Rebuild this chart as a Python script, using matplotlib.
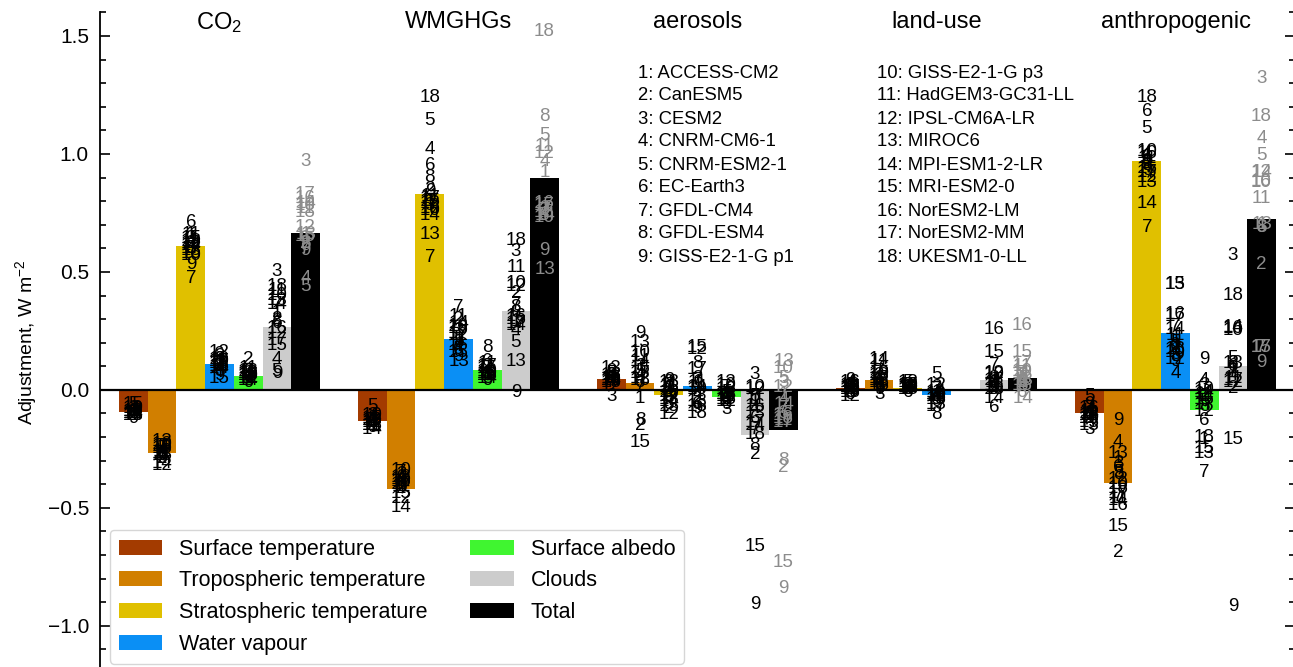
import numpy as np
import matplotlib
matplotlib.use("Agg")
import matplotlib.pyplot as plt
import matplotlib.transforms as mtransforms
from matplotlib.patches import Patch
from matplotlib.ticker import MultipleLocator

plt.rcParams["font.family"] = ["Liberation Sans", "DejaVu Sans"]
plt.rcParams["mathtext.fontset"] = "custom"
plt.rcParams["mathtext.rm"] = "Liberation Sans"
plt.rcParams["mathtext.it"] = "Liberation Sans:italic"
plt.rcParams["mathtext.bf"] = "Liberation Sans:bold"

nan = np.nan

FORCINGS = ["CO$_2$", "WMGHGs", "aerosols", "land-use", "anthropogenic"]
COMPONENTS = ["Surface temperature", "Tropospheric temperature",
              "Stratospheric temperature", "Water vapour", "Surface albedo",
              "Clouds", "Total"]
COLOURS = ["#a33b00", "#d17f00", "#e0c000", "#0a8ff5", "#40f530",
           "#cccccc", "#000000"]
MODELS = ["ACCESS-CM2", "CanESM5", "CESM2", "CNRM-CM6-1", "CNRM-ESM2-1",
          "EC-Earth3", "GFDL-CM4", "GFDL-ESM4", "GISS-E2-1-G p1",
          "GISS-E2-1-G p3", "HadGEM3-GC31-LL", "IPSL-CM6A-LR", "MIROC6",
          "MPI-ESM1-2-LR", "MRI-ESM2-0", "NorESM2-LM", "NorESM2-MM",
          "UKESM1-0-LL"]

# multi-model mean bars, one value per component
BAR_CO2 = [-0.093, -0.266, 0.61, 0.11, 0.06, 0.265, 0.665]
BAR_WMGHG = [-0.13, -0.42, 0.83, 0.216, 0.085, 0.335, 0.90]
BAR_AER = [0.045, 0.03, -0.02, 0.015, -0.03, -0.19, -0.17]
BAR_LAND = [0.01, 0.04, 0.01, -0.02, nan, 0.04, 0.05]
BAR_ANTH = [-0.10, -0.395, 0.97, 0.24, -0.087, 0.10, 0.725]

# per-model values (models 1..18), rows follow COMPONENTS
CO2 = [
    [-0.09, -0.11, -0.08, -0.10, -0.06, -0.09, -0.10, -0.09, -0.12, -0.08, -0.10, -0.09, -0.11, -0.10, -0.06, -0.09, -0.10, -0.11],
    [-0.27, -0.29, -0.24, -0.26, -0.25, -0.28, -0.24, -0.27, -0.29, -0.23, -0.26, -0.32, -0.22, -0.31, -0.28, -0.25, -0.27, -0.24],
    [0.66, 0.62, 0.64, 0.63, 0.60, 0.71, 0.47, 0.60, 0.53, 0.57, 0.66, 0.62, 0.59, 0.61, 0.64, 0.58, 0.60, 0.63],
    [0.12, 0.10, 0.14, 0.09, 0.08, 0.15, 0.11, 0.13, 0.06, 0.12, 0.10, 0.16, 0.11, 0.09, 0.05, 0.13, 0.12, 0.10],
    [0.05, 0.13, 0.08, 0.06, 0.04, 0.08, 0.05, 0.07, 0.03, 0.06, 0.09, 0.05, 0.07, 0.04, 0.06, 0.08, 0.05, 0.07],
    [0.33, 0.30, 0.50, 0.13, 0.08, 0.28, 0.36, 0.29, 0.07, 0.40, 0.42, 0.24, 0.38, 0.36, 0.19, 0.26, 0.21, 0.44],
    [0.66, 0.62, 0.97, 0.47, 0.44, 0.64, 0.60, 0.62, 0.59, 0.78, 0.77, 0.69, 0.66, 0.79, 0.65, 0.81, 0.83, 0.75],
]
WMGHG = [
    [-0.13, -0.15, -0.11, -0.12, -0.07, -0.14, -0.13, -0.12, -0.16, -0.11, -0.14, -0.15, -0.13, -0.17, -0.12, -0.13, -0.14, -0.15],
    [-0.40, -0.42, -0.36, -0.38, -0.41, -0.39, -0.35, -0.40, -0.37, -0.34, -0.41, -0.46, -0.38, -0.50, -0.44, -0.39, -0.40, -0.37],
    [0.80, 0.85, 0.78, 1.02, 1.14, 0.95, 0.56, 0.90, 0.84, 0.76, 0.82, 0.79, 0.66, 0.74, 0.80, 0.77, 0.81, 1.24],
    [0.22, 0.30, 0.25, 0.18, 0.21, 0.17, 0.35, 0.20, 0.14, 0.27, 0.31, 0.23, 0.12, 0.28, 0.16, 0.19, 0.24, 0.26],
    [0.07, 0.10, 0.06, 0.08, 0.05, 0.12, 0.09, 0.18, 0.04, 0.07, 0.11, 0.06, 0.08, 0.05, 0.09, 0.07, 0.10, 0.06],
    [0.29, 0.41, 0.585, 0.25, 0.20, 0.33, 0.36, 0.35, -0.01, 0.45, 0.52, 0.44, 0.12, 0.275, 0.30, 0.31, 0.28, 0.635],
    [0.92, 0.76, 0.77, 0.97, 1.08, 0.74, 0.76, 1.16, 0.59, 0.73, 1.03, 1.00, 0.51, 0.74, 0.75, 0.79, 0.78, 1.52],
]
AER = [
    [0.05, 0.06, -0.03, 0.04, 0.07, 0.05, 0.03, 0.06, 0.08, 0.04, 0.05, 0.02, 0.09, 0.04, 0.03, 0.06, 0.05, 0.04],
    [-0.035, -0.15, 0.10, 0.06, 0.08, 0.03, 0.01, -0.13, 0.24, 0.16, 0.14, 0.05, 0.20, 0.12, -0.225, 0.09, 0.07, 0.04],
    [0.01, -0.08, 0.03, -0.02, 0.00, -0.03, 0.02, -0.06, 0.04, -0.01, 0.02, -0.105, -0.04, -0.05, -0.07, 0.01, -0.03, 0.03],
    [0.03, -0.04, 0.05, -0.02, 0.02, -0.06, 0.04, 0.11, -0.08, 0.00, 0.03, 0.17, -0.05, 0.01, 0.18, -0.07, 0.085, -0.10],
    [-0.02, -0.05, -0.085, -0.03, -0.01, -0.04, 0.01, -0.02, -0.06, 0.02, -0.03, -0.05, 0.03, -0.02, -0.04, 0.00, -0.03, -0.02],
    [-0.05, -0.275, 0.065, -0.08, -0.03, -0.12, -0.17, -0.235, -0.91, 0.01, -0.04, 0.00, -0.10, -0.15, -0.665, -0.07, -0.14, -0.19],
    [-0.02, -0.33, 0.03, -0.04, 0.05, -0.10, -0.08, -0.30, -0.84, 0.09, -0.13, 0.01, 0.12, -0.06, -0.73, -0.11, -0.14, -0.12],
]
LAND = [
    [0.01, 0.02, -0.01, 0.03, 0.00, -0.02, 0.01, 0.02, 0.04, 0.00, 0.01, -0.03, 0.02, 0.01, 0.00, 0.03, 0.01, -0.01],
    [0.04, 0.06, -0.02, 0.03, 0.01, 0.05, 0.08, 0.02, 0.00, 0.07, 0.12, 0.04, 0.06, 0.13, 0.03, 0.09, 0.05, 0.02],
    [0.01, 0.02, 0.00, 0.01, 0.03, -0.01, 0.02, 0.01, 0.00, 0.02, 0.01, 0.03, 0.00, 0.01, 0.02, 0.01, 0.00, 0.02],
    [-0.01, -0.03, 0.01, -0.02, 0.065, -0.04, 0.00, -0.105, -0.05, -0.02, -0.03, 0.02, -0.06, -0.01, -0.04, -0.02, -0.07, -0.03],
    [nan] * 18,
    [0.03, 0.01, 0.04, 0.02, 0.00, -0.075, 0.105, 0.05, 0.01, 0.065, 0.03, 0.07, 0.02, -0.035, 0.16, 0.255, 0.04, 0.00],
    [0.05, 0.03, 0.06, 0.04, 0.02, -0.01, 0.07, 0.06, 0.03, 0.08, 0.10, 0.07, 0.04, -0.035, 0.16, 0.275, 0.11, 0.02],
]
ANTH = [
    [-0.10, -0.12, -0.17, -0.09, -0.03, -0.11, -0.08, -0.10, -0.06, -0.12, -0.09, -0.11, -0.15, -0.10, -0.14, -0.08, -0.12, -0.11],
    [-0.29, -0.69, -0.31, -0.225, -0.35, -0.33, -0.45, -0.36, -0.13, -0.40, -0.46, -0.38, -0.27, -0.47, -0.58, -0.49, -0.44, -0.42],
    [0.99, 0.96, 0.95, 1.00, 1.11, 1.18, 0.69, 0.97, 0.93, 1.01, 0.98, 0.90, 0.88, 0.79, 0.94, 1.00, 0.92, 1.24],
    [0.22, 0.18, 0.15, 0.07, 0.20, 0.19, 0.27, 0.14, 0.12, 0.16, 0.23, 0.13, 0.445, 0.255, 0.445, 0.32, 0.31, 0.17],
    [-0.21, -0.03, 0.02, 0.04, -0.05, -0.13, -0.35, -0.07, 0.13, 0.00, -0.02, -0.09, -0.27, -0.01, -0.25, -0.04, -0.06, -0.20],
    [0.09, 0.005, 0.57, 0.06, 0.135, 0.10, 0.08, 0.11, -0.92, 0.25, 0.05, 0.03, 0.11, 0.265, -0.21, 0.26, 0.04, 0.40],
    [0.70, 0.53, 1.32, 1.065, 0.995, 0.69, 0.18, 0.69, 0.115, 0.88, 0.81, 0.92, 0.70, 0.92, 0.18, 0.885, 0.18, 1.16],
]

BARS = [BAR_CO2, BAR_WMGHG, BAR_AER, BAR_LAND, BAR_ANTH]
PER_MODEL = [CO2, WMGHG, AER, LAND, ANTH]

W = 0.12
W_PX, H_PX = 1293, 667

fig = plt.figure(figsize=(W_PX / 100, H_PX / 100), dpi=100)
ax = fig.add_axes([100 / W_PX, -6 / H_PX, 1195 / W_PX, 660.6 / H_PX])

offsets = (np.arange(len(COMPONENTS)) - 3) * W
for g, (bars, vals) in enumerate(zip(BARS, PER_MODEL)):
    for c, colour in enumerate(COLOURS):
        x = g + offsets[c]
        if not np.isnan(bars[c]):
            ax.bar(x, bars[c], W, color=colour, zorder=2)
        tcol = "0.55" if c == len(COLOURS) - 1 else "black"
        for m, v in enumerate(vals[c]):
            if np.isnan(v):
                continue
            ax.text(x, v, str(m + 1), ha="center", va="center",
                    fontsize=13.5, color=tcol, zorder=4)

ax.axhline(0, color="black", lw=1.6, zorder=3)

ax.set_xlim(-0.5, 4.5)
ax.set_ylim(-1.2, 1.6)
ax.set_xticks([])
ax.yaxis.set_major_locator(MultipleLocator(0.5))
ax.yaxis.set_minor_locator(MultipleLocator(0.1))
ax.tick_params(axis="y", which="both", direction="in", right=True,
               labelsize=15, pad=8, width=1.2)
ax.tick_params(axis="y", which="major", length=7)
ax.tick_params(axis="y", which="minor", length=4)
ax.spines["top"].set_visible(False)
ax.spines["bottom"].set_visible(False)
for sp in ("left", "right"):
    ax.spines[sp].set_linewidth(1.3)
ax.set_ylabel("Adjustment, W m$^{-2}$", fontsize=14, labelpad=6)

trans = mtransforms.blended_transform_factory(ax.transData, ax.transAxes)
for g, name in enumerate(FORCINGS):
    ax.text(g, 0.985, name, transform=trans, ha="center", va="center",
            fontsize=17)

# model key, two columns
for i, name in enumerate(MODELS):
    col, row = divmod(i, 9)
    x0 = (638 if col == 0 else 877) / W_PX
    y0 = 1 - (73 + row * 23) / H_PX
    fig.text(x0, y0, f"{i + 1}: {name}", ha="left", va="center",
             fontsize=13.3)

handles = [Patch(facecolor=c, label=l) for c, l in zip(COLOURS, COMPONENTS)]
fig.legend(handles=handles, ncol=2, loc="upper left",
           bbox_to_anchor=(110 / W_PX, 1 - 530 / H_PX), borderaxespad=0,
           fontsize=15.5, frameon=True)

fig.savefig("out.png", dpi=100)
